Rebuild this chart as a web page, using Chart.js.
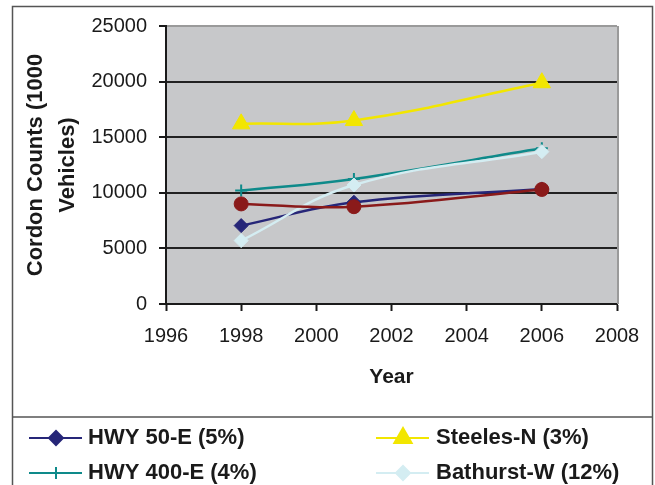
<!DOCTYPE html>
<html>
<head>
<meta charset="utf-8">
<script src="https://cdn.jsdelivr.net/npm/chart.js@4/dist/chart.umd.min.js"></script>
<style>
html,body{margin:0;padding:0;background:#fff;overflow:hidden;}
#wrap{position:relative;width:655px;height:485px;}
</style>
</head>
<body>
<div id="wrap"><canvas id="c" width="655" height="485"></canvas></div>
<script>
// ---- data ----
const years = [1998, 2001, 2006];
const hwy50E = [7050, 9150, 10350];
const steelesN = [16200, 16500, 19900];
const hwy400E = [10200, 11250, 14000];
const bathurstW = [5700, 10700, 13700];
const fifthSeries = [9000, 8750, 10300]; // legend entry cut off in the reference
const seriesLabels = ['HWY 50-E (5%)', 'Steeles-N (3%)', 'HWY 400-E (4%)', 'Bathurst-W (12%)', ''];
const xRange = [1996, 2008];
const yRange = [0, 25000];
const yTitle = ['Cordon Counts (1000', 'Vehicles)'];
const xTitle = 'Year';

const FONT = "'Liberation Sans', Arial, sans-serif";

function pts(vals){ return years.map((y,i)=>({x:y, y:vals[i]})); }

const styles = [
  {color:'#262678', pointStyle:'rectRot', radius:7, order:5},
  {color:'#F2E600', pointStyle:'triangle', radius:10, order:4},
  {color:'#0E8A8A', pointStyle:'cross', radius:6, order:3},
  {color:'#D4EDF2', pointStyle:'rectRot', radius:7, order:2},
  {color:'#8A1A1A', pointStyle:'circle', radius:7, order:1}
];
const values = [hwy50E, steelesN, hwy400E, bathurstW, fifthSeries];

const datasets = values.map((v,i)=>({
  label: seriesLabels[i],
  data: pts(v),
  borderColor: styles[i].color,
  backgroundColor: styles[i].color,
  pointBackgroundColor: styles[i].color,
  pointBorderColor: styles[i].color,
  pointStyle: styles[i].pointStyle,
  pointRadius: styles[i].radius,
  pointBorderWidth: styles[i].pointStyle==='cross' ? 2 : 1,
  borderWidth: 2.5,
  tension: 0.4,
  order: styles[i].order,
  fill: false
}));

const decor = {
  id:'decor',
  beforeDraw(chart){
    const {ctx, chartArea:a} = chart;
    ctx.save();
    ctx.fillStyle = '#C7C8CA';
    ctx.fillRect(a.left, a.top, a.right-a.left, a.bottom-a.top);
    ctx.restore();
  },
  afterDraw(chart){
    const {ctx, chartArea:a} = chart;
    ctx.save();
    // plot right shading
    ctx.strokeStyle = '#9A9A9A';
    ctx.lineWidth = 2;
    ctx.beginPath();
    ctx.moveTo(a.right+1, a.top); ctx.lineTo(a.right+1, a.bottom);
    ctx.stroke();
    // outer frame
    ctx.strokeStyle = '#555';
    ctx.lineWidth = 1.5;
    ctx.strokeRect(12.5, 6.5, 640, 520);
    ctx.beginPath();
    ctx.moveTo(12, 417); ctx.lineTo(653, 417);
    ctx.stroke();
    // legend
    const items = [
      {i:0, lx:29, rx:82, mx:56, tx:88, y:438},
      {i:1, lx:376, rx:429, mx:403, tx:436, y:438},
      {i:2, lx:29, rx:82, mx:56, tx:88, y:473},
      {i:3, lx:376, rx:429, mx:403, tx:436, y:473}
    ];
    items.forEach(it=>{
      const s = styles[it.i];
      ctx.strokeStyle = s.color;
      ctx.fillStyle = s.color;
      ctx.lineWidth = 2;
      ctx.beginPath();
      ctx.moveTo(it.lx, it.y); ctx.lineTo(it.rx, it.y);
      ctx.stroke();
      Chart.helpers.drawPoint(ctx, {pointStyle:s.pointStyle, radius:s.radius, rotation:0, borderWidth: s.pointStyle==='cross'?2:1}, it.mx, it.y);
      ctx.fillStyle = '#1a1a1a';
      ctx.font = "bold 22px " + FONT;
      ctx.textBaseline = 'middle';
      ctx.textAlign = 'left';
      ctx.fillText(seriesLabels[it.i], it.tx, it.y);
    });
    ctx.restore();
  }
};

new Chart(document.getElementById('c'), {
  type:'line',
  data:{datasets},
  plugins:[decor],
  options:{
    responsive:false,
    animation:false,
    layout:{padding:{left:0, top:26, right:38, bottom:85}},
    plugins:{legend:{display:false}, tooltip:{enabled:false}},
    scales:{
      x:{
        type:'linear', min:xRange[0], max:xRange[1],
        afterFit(s){ s.height = 96; },
        ticks:{stepSize:2, color:'#1a1a1a', font:{family:FONT, size:20}, padding:13, callback:v=>String(v)},
        grid:{drawOnChartArea:false, drawTicks:true, tickLength:7, tickColor:'#1a1a1a', tickWidth:2},
        border:{display:true, color:'#1a1a1a', width:2},
        title:{display:true, text:xTitle, color:'#1a1a1a', font:{family:FONT, size:21, weight:'bold'}, padding:{top:0,bottom:10}}
      },
      y:{
        min:yRange[0], max:yRange[1],
        afterFit(s){ s.width = 166; },
        ticks:{stepSize:5000, color:'#1a1a1a', font:{family:FONT, size:20}, padding:12, callback:v=>String(v)},
        grid:{
          color:c=> (c.tick && c.tick.value===yRange[1]) ? '#9A9A9A' : '#222',
          lineWidth:2, drawTicks:true, tickLength:7, tickColor:'#1a1a1a', tickWidth:2
        },
        border:{display:true, color:'#1a1a1a', width:2},
        title:{display:true, text:yTitle, color:'#1a1a1a', font:{family:FONT, size:22, weight:'bold', lineHeight:1.45}, padding:{top:20,bottom:0}}
      }
    }
  }
});
</script>
</body>
</html>
